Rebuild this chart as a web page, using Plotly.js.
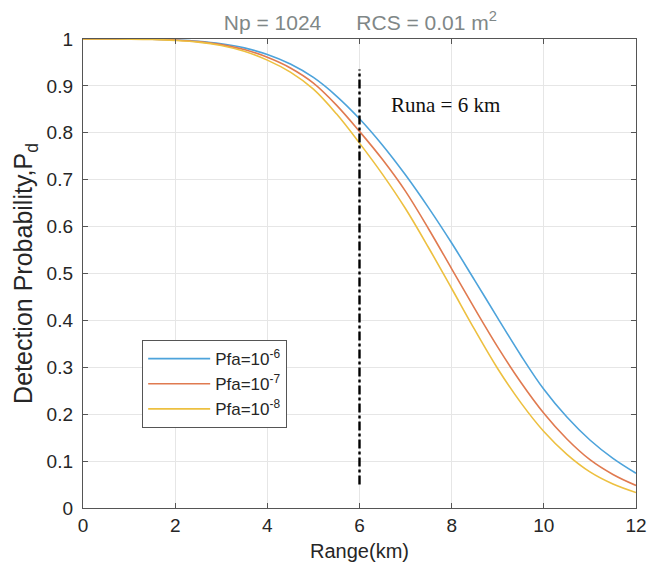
<!DOCTYPE html>
<html><head><meta charset="utf-8">
<script src="https://cdn.plot.ly/plotly-3.0.1.min.js"></script>
<style>html,body{margin:0;padding:0;background:#fff}#chart{width:647px;height:571px}</style>
</head><body><div id="chart"></div>
<script>
const rangeKm = [0,0.5,1,1.5,2,2.5,3,3.5,4,4.5,5,5.5,6,6.5,7,7.5,8,8.5,9,9.5,10,10.5,11,11.5,12];
const pdPfa6 = [1.0,1.0,1.0,0.9995,0.998,0.9953,0.99,0.9811,0.967,0.9466,0.918,0.8784,0.83,0.7736,0.71,0.64,0.565,0.4854,0.405,0.3257,0.253,0.1939,0.145,0.1058,0.074];
const pdPfa7 = [1.0,1.0,0.9999,0.9996,0.998,0.9944,0.988,0.9775,0.961,0.9382,0.906,0.8591,0.803,0.7429,0.675,0.5949,0.51,0.425,0.343,0.2682,0.202,0.1471,0.103,0.0715,0.048];
const pdPfa8 = [1.0,0.9999,0.9998,0.9991,0.997,0.9933,0.986,0.9737,0.955,0.9293,0.893,0.8404,0.778,0.7114,0.638,0.5549,0.468,0.3802,0.297,0.2247,0.163,0.1144,0.077,0.0512,0.033];
const seriesNames = ["Pfa=10<sup>-6</sup>","Pfa=10<sup>-7</sup>","Pfa=10<sup>-8</sup>"];
const runaX = [6,6];
const runaY = [0.05,0.935];
const xTicks = [0,2,4,6,8,10,12];
const yTicks = [0,0.1,0.2,0.3,0.4,0.5,0.6,0.7,0.8,0.9,1];

const colors = ["#4DA3DB","#E07A50","#EDC040"];
const series = [pdPfa6,pdPfa7,pdPfa8];
const traces = series.map((s,i)=>({
  x: rangeKm, y: s, type:'scatter', mode:'lines', name: seriesNames[i],
  line:{color:colors[i], width:1.6, shape:'spline', smoothing:1}
}));
traces.push({x:runaX, y:runaY, type:'scatter', mode:'lines', showlegend:false,
  line:{color:'#000', width:2.4, dash:'dashdot'}});

const axisCommon = {
  showline:true, mirror:'ticks', linecolor:'#555', linewidth:1.2,
  ticks:'inside', ticklen:5, tickcolor:'#555',
  showgrid:true, gridcolor:'#e6e6e6', gridwidth:1, zeroline:false,
  tickfont:{family:'Liberation Sans, Arial', size:19, color:'#262626'}
};
const layout = {
  width:647, height:571,
  margin:{l:83, r:11, t:39, b:63},
  paper_bgcolor:'#fff', plot_bgcolor:'#fff',
  title:{text:'Np = 1024      RCS = 0.01 m<sup>2</sup>', x:0.557, xanchor:'center', y:0.973, yanchor:'top',
    font:{family:'Liberation Sans, Arial', size:21, color:'#7f8787'}},
  xaxis: Object.assign({}, axisCommon, {range:[0,12], tickvals:xTicks,
    title:{text:'Range(km)', standoff:9, font:{family:'Liberation Sans, Arial', size:20, color:'#262626'}}}),
  yaxis: Object.assign({}, axisCommon, {range:[0,1], tickvals:yTicks, ticklabelstandoff:5,
    title:{text:'Detection Probability,P<sub>d</sub>', standoff:6, font:{family:'Liberation Sans, Arial', size:25, color:'#262626'}}}),
  legend:{x:0.107, y:0.358, xanchor:'left', yanchor:'top', bgcolor:'#fff', bordercolor:'#555', borderwidth:1,
    itemwidth:62, font:{family:'Liberation Sans, Arial', size:17, color:'#262626'}, tracegroupgap:0},
  annotations:[{x:7.86, y:0.859, xref:'x', yref:'y', text:'Runa = 6 km', showarrow:false,
    font:{family:'Liberation Serif, Times New Roman', size:21, color:'#111'}}]
};
Plotly.newPlot('chart', traces, layout, {displayModeBar:false, staticPlot:true});
</script></body></html>
